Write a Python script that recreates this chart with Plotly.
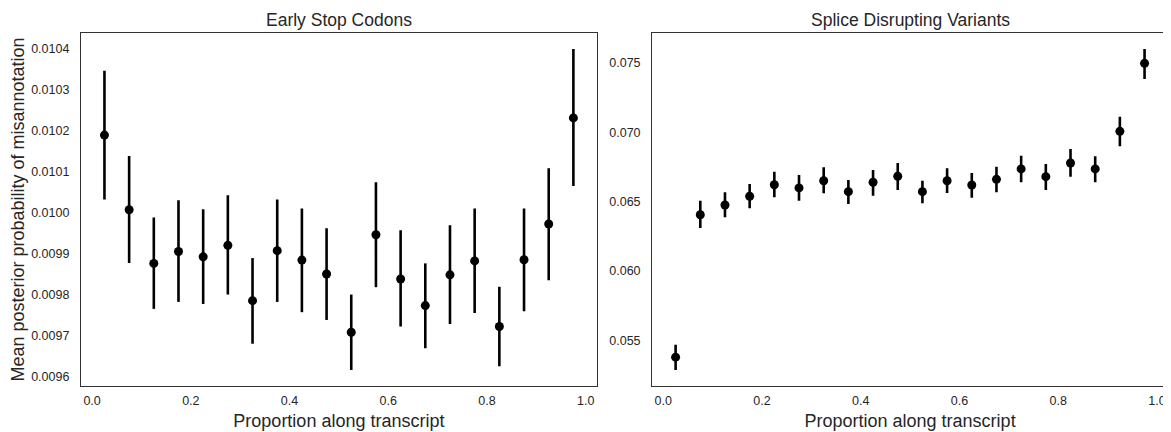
import plotly.graph_objects as go
from plotly.subplots import make_subplots

# ---- data ----
bin_centers = [0.025, 0.075, 0.125, 0.175, 0.225, 0.275, 0.325, 0.375, 0.425, 0.475,
               0.525, 0.575, 0.625, 0.675, 0.725, 0.775, 0.825, 0.875, 0.925, 0.975]

stop_mean = [0.010189, 0.010007, 0.009876, 0.009905, 0.009892, 0.009920, 0.009785, 0.009907,
             0.009884, 0.009850, 0.009708, 0.009946, 0.009838, 0.009773, 0.009848, 0.009882,
             0.009722, 0.009885, 0.009972, 0.010231]
stop_low = [0.010032, 0.009877, 0.009765, 0.009782, 0.009777, 0.009800, 0.009680, 0.009782,
            0.009757, 0.009738, 0.009616, 0.009818, 0.009722, 0.009669, 0.009728, 0.009755,
            0.009625, 0.009759, 0.009835, 0.010065]
stop_high = [0.010346, 0.010138, 0.009988, 0.010030, 0.010008, 0.010042, 0.009889, 0.010032,
             0.010010, 0.009962, 0.009800, 0.010074, 0.009957, 0.009876, 0.009969, 0.010010,
             0.009819, 0.010010, 0.010108, 0.010399]

splice_mean = [0.05379, 0.06406, 0.06476, 0.06539, 0.06622, 0.06599, 0.06651, 0.06572,
               0.06640, 0.06683, 0.06572, 0.06651, 0.06620, 0.06661, 0.06736, 0.06680,
               0.06779, 0.06736, 0.07007, 0.07497]
splice_low = [0.05287, 0.06311, 0.06388, 0.06452, 0.06532, 0.06507, 0.06561, 0.06483,
              0.06543, 0.06584, 0.06488, 0.06563, 0.06529, 0.06568, 0.06640, 0.06584,
              0.06680, 0.06640, 0.06899, 0.07384]
splice_high = [0.05468, 0.06507, 0.06568, 0.06628, 0.06716, 0.06692, 0.06748, 0.06656,
               0.06728, 0.06779, 0.06651, 0.06740, 0.06707, 0.06752, 0.06831, 0.06772,
               0.06880, 0.06827, 0.07112, 0.07600]

panel_titles = ["Early Stop Codons", "Splice Disrupting Variants"]
x_title = "Proportion along transcript"
y_title = "Mean posterior probability of misannotation"
x_ticks = [0.0, 0.2, 0.4, 0.6, 0.8, 1.0]
stop_ticks = [0.0096, 0.0097, 0.0098, 0.0099, 0.0100, 0.0101, 0.0102, 0.0103, 0.0104]
splice_ticks = [0.055, 0.060, 0.065, 0.070, 0.075]

# ---- figure ----
TEXT = "#262626"
FONT = "Liberation Sans, Arial, sans-serif"

fig = make_subplots(rows=1, cols=2, horizontal_spacing=0.0509,
                    subplot_titles=panel_titles)


def add_panel(col, mean, low, high):
    plus = [h - m for h, m in zip(high, mean)]
    minus = [m - l for m, l in zip(mean, low)]
    fig.add_trace(go.Scatter(
        x=bin_centers, y=mean, mode="markers",
        marker=dict(color="black", size=9),
        error_y=dict(type="data", symmetric=False, array=plus, arrayminus=minus,
                     color="black", thickness=2.6, width=0),
        showlegend=False, hoverinfo="x+y"), row=1, col=col)


add_panel(1, stop_mean, stop_low, stop_high)
add_panel(2, splice_mean, splice_low, splice_high)


def padded(lo, hi):
    span = max(hi) - min(lo)
    return [min(lo) - 0.05 * span, max(hi) + 0.05 * span]


xspan = bin_centers[-1] - bin_centers[0]
xr = [bin_centers[0] - 0.05 * xspan, bin_centers[-1] + 0.05 * xspan]

axis_common = dict(showgrid=False, zeroline=False, showline=True, mirror=True,
                   linecolor="#333333", linewidth=1.25, ticks="outside",
                   tickcolor="rgba(0,0,0,0)",
                   tickfont=dict(family=FONT, size=12.5, color=TEXT))

for c in (1, 2):
    fig.update_xaxes(range=xr, tickvals=x_ticks, tickformat=".1f", ticklen=3,
                     title=dict(text=x_title, font=dict(family=FONT, size=18, color=TEXT),
                                standoff=7),
                     row=1, col=c, **axis_common)

fig.update_yaxes(range=padded(stop_low, stop_high), tickvals=stop_ticks, tickformat=".4f",
                 ticklen=8,
                 title=dict(text=y_title, font=dict(family=FONT, size=18, color=TEXT),
                            standoff=5),
                 row=1, col=1, **axis_common)
fig.update_yaxes(range=padded(splice_low, splice_high), tickvals=splice_ticks,
                 tickformat=".3f", ticklen=8, row=1, col=2, **axis_common)

for ann in fig.layout.annotations:
    ann.font = dict(family=FONT, size=17.5, color=TEXT)
    ann.yshift = 1

# page body adds an 8px offset, so the figure is 8px smaller on each axis
fig.update_layout(width=1163, height=424,
                  margin=dict(l=73, r=3, t=25, b=46, autoexpand=False),
                  paper_bgcolor="white", plot_bgcolor="white",
                  font=dict(family=FONT, color=TEXT))

fig.write_html("out.html")
